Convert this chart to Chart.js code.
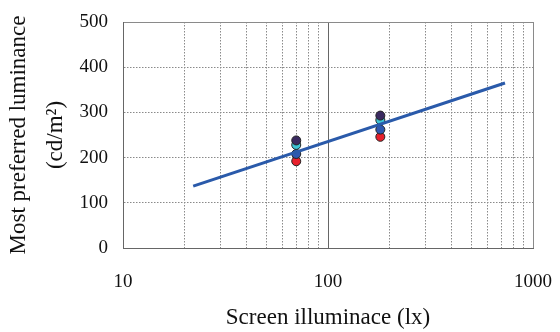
<!DOCTYPE html>
<html>
<head>
<meta charset="utf-8">
<script src="https://cdn.jsdelivr.net/npm/chart.js@4.4.1/dist/chart.umd.min.js"></script>
<style>
  html, body { margin: 0; padding: 0; background: #fff; }
  #wrap { width: 560px; height: 332px; }
</style>
</head>
<body>
<div id="wrap"><canvas id="chart" width="560" height="332"></canvas></div>
<script>
// screen illuminance (lx) of the two test conditions
const illuminance = [70, 180];
// most preferred luminance, one array per marker group
const darkValues = [238, 293];
const cyanValues = [228, 283];
const blueValues = [208, 262];
const redValues = [192, 246];
// regression line end points
const fitX = [22, 730];
const fitY = [137, 365];
// axis ticks
const xGridValues = [10, 20, 30, 40, 50, 60, 70, 80, 90, 100, 200, 300, 400, 500, 600, 700, 800, 900, 1000];
const xTickLabels = [10, 100, 1000];
const yTickValues = [0, 100, 200, 300, 400, 500];

function points(xs, ys) {
    return xs.map((x, i) => ({ x: x, y: ys[i] }));
}

function markerSet(label, values, color) {
    return {
        type: 'scatter',
        label: label,
        data: points(illuminance, values),
        backgroundColor: color,
        borderColor: '#222',
        borderWidth: 1,
        pointRadius: 4.5,
        order: 1
    };
}

const serif = 'Liberation Serif, Times New Roman, serif';
const gridGray = '#8a8a8a';

new Chart(document.getElementById('chart'), {
    type: 'scatter',
    data: {
        datasets: [
            {
                type: 'line',
                label: 'fit',
                data: points(fitX, fitY),
                borderColor: '#2a5aaa',
                borderWidth: 3,
                pointRadius: 0,
                fill: false,
                order: 0
            },
            markerSet('dark', darkValues, '#3a2a60'),
            markerSet('cyan', cyanValues, '#3ec6d6'),
            markerSet('blue', blueValues, '#2e58b0'),
            markerSet('red', redValues, '#e8202c')
        ]
    },
    options: {
        responsive: false,
        animation: false,
        layout: { padding: { top: 22, right: 27, left: 0, bottom: 0 } },
        plugins: {
            legend: { display: false },
            tooltip: { enabled: false }
        },
        scales: {
            x: {
                type: 'logarithmic',
                min: 10,
                max: 1000,
                afterBuildTicks: function(scale) {
                    scale.ticks = xGridValues.map(v => ({ value: v }));
                },
                afterFit: function(scale) {
                    scale.height = 84;
                    scale.paddingLeft = 0;
                    scale.paddingRight = 0;
                },
                ticks: {
                    autoSkip: false,
                    maxRotation: 0,
                    padding: 23,
                    color: '#111',
                    font: { family: serif, size: 19 },
                    callback: function(value) {
                        return xTickLabels.includes(value) ? String(value) : '';
                    }
                },
                grid: {
                    drawTicks: false,
                    lineWidth: 1,
                    color: function(ctx) {
                        return ctx.tick && ctx.tick.value === 100 ? '#666' : gridGray;
                    }
                },
                border: {
                    color: '#666',
                    width: 1,
                    dash: function(ctx) {
                        const v = ctx.tick ? ctx.tick.value : 0;
                        return (v === 100 || v === 1000) ? [] : [1.5, 1.5];
                    }
                },
                title: {
                    display: true,
                    text: 'Screen illuminace (lx)',
                    color: '#111',
                    font: { family: serif, size: 23 },
                    padding: { top: 0, bottom: 0 }
                }
            },
            y: {
                type: 'linear',
                min: 0,
                max: 500,
                afterBuildTicks: function(scale) {
                    scale.ticks = yTickValues.map(v => ({ value: v }));
                },
                afterFit: function(scale) {
                    scale.width = 123;
                    scale.paddingTop = 0;
                    scale.paddingBottom = 0;
                },
                ticks: {
                    padding: 15,
                    color: '#111',
                    font: { family: serif, size: 19 }
                },
                grid: {
                    drawTicks: false,
                    lineWidth: 1,
                    color: gridGray
                },
                border: {
                    color: '#666',
                    width: 1,
                    dash: function(ctx) {
                        const v = ctx.tick ? ctx.tick.value : 0;
                        return v === 500 ? [] : [1.5, 1.5];
                    }
                },
                title: {
                    display: true,
                    text: ['Most preferred luminance', '(cd/m\u00b2)'],
                    color: '#111',
                    font: { family: serif, size: 23, lineHeight: 1.6 },
                    padding: { top: 1, bottom: 0 }
                }
            }
        }
    }
});
</script>
</body>
</html>
